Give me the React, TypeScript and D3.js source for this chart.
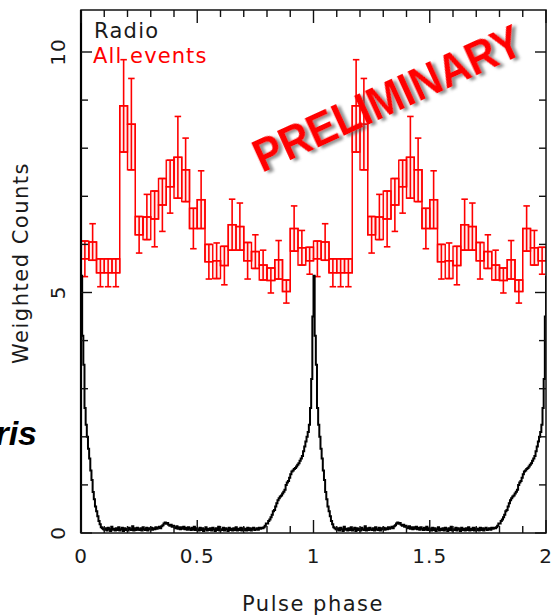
import React from "react";
import * as d3 from "d3";

// ---- Data (one pulse cycle; plotted twice, phase 0-2) ----
// Gamma-ray "All events" weighted counts, 30 phase bins per cycle
const RED_VALUES = [5.70, 6.05, 5.41, 5.41, 5.41, 8.88, 8.50, 6.20, 6.57, 6.53,
  6.82, 7.20, 7.81, 7.55, 6.33, 6.93, 5.64, 5.66, 5.56, 6.41,
  6.37, 5.66, 5.85, 5.57, 5.25, 5.68, 5.02, 6.33, 5.93, 5.66];
const RED_ERRORS = [0.37, 0.38, 0.29, 0.29, 0.29, 0.96, 0.95, 0.38, 0.47, 0.58,
  0.55, 0.55, 0.85, 0.66, 0.42, 0.60, 0.36, 0.37, 0.40, 0.53,
  0.49, 0.38, 0.35, 0.31, 0.26, 0.40, 0.24, 0.47, 0.36, 0.28];

// Radio profile, 200 phase bins per cycle
const RADIO_PEAK_FALL = [5.35, 4.1, 3.5, 2.6, 2.25, 2.0, 1.75, 1.55, 1.3, 1.1,
  0.85, 0.7, 0.55, 0.45, 0.35, 0.25, 0.18, 0.12, 0.1, 0.08];
const RADIO_OFF_PULSE = [
  0.07, 0.1, 0.05, 0.11, 0.08, 0.04, 0.13, 0.07, 0.09, 0.05,
  0.1, 0.06, 0.12, 0.05, 0.08, 0.11, 0.04, 0.1, 0.06, 0.09,
  0.05, 0.11, 0.08, 0.06, 0.14, 0.05, 0.1, 0.06, 0.11, 0.08,
  0.06, 0.1, 0.05, 0.12, 0.08, 0.06, 0.11, 0.05, 0.1, 0.08,
  0.11, 0.07, 0.1, 0.08, 0.12, 0.09, 0.11, 0.13, 0.1, 0.14,
  0.16, 0.2, 0.22, 0.19, 0.21, 0.17, 0.15, 0.17, 0.13, 0.15,
  0.12, 0.1, 0.14, 0.09, 0.12, 0.08, 0.12, 0.09, 0.13, 0.08,
  0.11, 0.07, 0.12, 0.09, 0.06, 0.11, 0.07, 0.13, 0.06, 0.1,
  0.08, 0.05, 0.11, 0.06, 0.1, 0.04, 0.08, 0.12, 0.05, 0.09,
  0.06, 0.1, 0.05, 0.11, 0.08, 0.04, 0.1, 0.06, 0.13, 0.05,
  0.08, 0.06, 0.11, 0.05, 0.1, 0.08, 0.04, 0.11, 0.06, 0.09,
  0.05, 0.1, 0.06, 0.12, 0.05, 0.09, 0.06, 0.11, 0.05, 0.1,
  0.06, 0.09, 0.05, 0.11, 0.06, 0.1, 0.05, 0.09, 0.11, 0.06,
  0.08, 0.1, 0.07, 0.11, 0.09, 0.11];
const RADIO_RISE = [0.1, 0.12, 0.15, 0.2, 0.2, 0.25, 0.28, 0.33, 0.38, 0.45,
  0.48, 0.55, 0.62, 0.68, 0.72, 0.76, 0.78, 0.82, 0.86, 0.9,
  1.0, 1.05, 1.08, 1.15, 1.22, 1.28, 1.3, 1.33, 1.35, 1.38,
  1.42, 1.45, 1.5, 1.55, 1.6, 1.7, 1.8, 1.9, 2.0, 2.1,
  2.25, 2.6, 3.2, 4.5];
const RADIO = [...RADIO_PEAK_FALL, ...RADIO_OFF_PULSE, ...RADIO_RISE];

const CYCLES = 2;
const X_MAJOR = [0, 0.5, 1, 1.5, 2];
const X_LABELS = ["0", "0.5", "1", "1.5", "2"];
const Y_MAJOR = [0, 5, 10];
const Y_LABELS = ["0", "5", "10"];

const W = 552, H = 616;
const L = 81, R = 546, T = 10, B = 533;

export default function App() {
  const x = d3.scaleLinear().domain([0, 2]).range([L, R]);
  const y = d3.scaleLinear().domain([0, 10]).range([B, 52]);

  const xMinor = d3.range(0, 21).map((i) => i / 10);
  const yMinor = d3.range(0, 11);

  // radio step line
  const nR = RADIO.length;
  const radioPts: [number, number][] = [];
  for (let c = 0; c < CYCLES; c++) {
    RADIO.forEach((v, i) => radioPts.push([c + i / nR, v]));
  }
  radioPts.push([CYCLES, RADIO[0]]);
  const stepLine = d3.line<[number, number]>()
    .x((d) => x(d[0]))
    .y((d) => y(d[1]))
    .curve(d3.curveStepAfter);

  // red histogram
  const nB = RED_VALUES.length;
  const bw = 1 / nB;
  const redBins: { x0: number; v: number; e: number; next: number }[] = [];
  for (let c = 0; c < CYCLES; c++) {
    RED_VALUES.forEach((v, i) =>
      redBins.push({ x0: c + i * bw, v, e: RED_ERRORS[i], next: RED_VALUES[(i + 1) % nB] })
    );
  }
  const redPts: [number, number][] = redBins.map((b) => [b.x0, b.v]);
  redPts.push([CYCLES, redBins[redBins.length - 1].v]);

  const red = "#ff0000";
  const txt = "#1a1a1a";
  const font = "'DejaVu Sans', sans-serif";
  const capHalf = (x(bw) - x(0)) * 0.42;

  return (
    <svg width={W} height={H} style={{ position: "absolute", left: 0, top: 0, background: "#fff" }}
      xmlns="http://www.w3.org/2000/svg">
      <defs>
        <filter id="shadow" x="-10%" y="-30%" width="130%" height="170%">
          <feDropShadow dx="3" dy="3" stdDeviation="1.6" floodColor="#555" floodOpacity="0.65" />
        </filter>
        <clipPath id="plot">
          <rect x={L} y={T} width={R - L} height={B - T} />
        </clipPath>
      </defs>

      {/* red histogram */}
      <g clipPath="url(#plot)">
        {redBins.map((b, i) => {
          const dir = b.next >= b.v ? 1 : -1;
          const y1 = y(b.v), y2 = y(b.v + dir * b.e);
          return (
            <rect key={"bx" + i} x={x(b.x0)} y={Math.min(y1, y2)} width={x(bw) - x(0)}
              height={Math.abs(y1 - y2)} fill="rgba(255,0,0,0.07)" stroke={red} strokeWidth={1.4} />
          );
        })}
        <path d={stepLine(redPts) || ""} fill="none" stroke={red} strokeWidth={1.5} />
        {redBins.map((b, i) => {
          const cx = x(b.x0 + bw / 2);
          return (
            <g key={"eb" + i} stroke={red} strokeWidth={1.6}>
              <line x1={cx} x2={cx} y1={y(b.v - b.e)} y2={y(b.v + b.e)} />
              <line x1={cx - capHalf} x2={cx + capHalf} y1={y(b.v - b.e)} y2={y(b.v - b.e)} />
              <line x1={cx - capHalf} x2={cx + capHalf} y1={y(b.v + b.e)} y2={y(b.v + b.e)} />
            </g>
          );
        })}
        {/* radio */}
        <path d={stepLine(radioPts) || ""} fill="none" stroke="#000" strokeWidth={2} />
      </g>

      {/* frame */}
      <rect x={L} y={T} width={R - L} height={B - T} fill="none" stroke="#111" strokeWidth={1.5} />
      <line x1={L} x2={L} y1={T} y2={B} stroke="#000" strokeWidth={2.2} />

      {/* ticks */}
      <g stroke="#111" strokeWidth={1.4}>
        {xMinor.map((t, i) => {
          const len = X_MAJOR.some((m) => Math.abs(m - t) < 1e-9) ? 13 : 7;
          return (
            <g key={"xt" + i}>
              <line x1={x(t)} x2={x(t)} y1={B} y2={B - len} />
              <line x1={x(t)} x2={x(t)} y1={T} y2={T + len} />
            </g>
          );
        })}
        {yMinor.map((t, i) => {
          const len = Y_MAJOR.includes(t) ? 11 : 7;
          return (
            <g key={"yt" + i}>
              <line x1={L} x2={L + len} y1={y(t)} y2={y(t)} />
              <line x1={R} x2={R - len} y1={y(t)} y2={y(t)} />
            </g>
          );
        })}
      </g>

      {/* tick labels */}
      <g fontFamily={font} fontSize={20} fill={txt} letterSpacing={1}>
        {X_MAJOR.map((t, i) => (
          <text key={"xl" + i} x={x(t)} y={563} textAnchor="middle">{X_LABELS[i]}</text>
        ))}
        {Y_MAJOR.map((t, i) => (
          <text key={"yl" + i} transform={`translate(65,${y(t)}) rotate(-90)`} textAnchor="middle">
            {Y_LABELS[i]}
          </text>
        ))}
      </g>

      {/* axis titles */}
      <text x={313} y={611} textAnchor="middle" fontFamily={font} fontSize={21} fill={txt} letterSpacing={1.5}>
        Pulse phase
      </text>
      <text transform="translate(28,263) rotate(-90)" textAnchor="middle" fontFamily={font} fontSize={21}
        fill={txt} letterSpacing={1.5}>
        Weighted Counts
      </text>

      {/* legend labels */}
      <text x={94} y={38} fontFamily={font} fontSize={21} fill={txt} letterSpacing={1.3}>Radio</text>
      <text x={93} y={63} fontFamily={font} fontSize={21} fill={red} letterSpacing={1.1}>All events</text>

      {/* watermark */}
      <text transform="translate(262,173) rotate(-24.5)" fontFamily="'Liberation Sans', Arial, sans-serif"
        fontWeight="bold" fontSize={47} fill={red} filter="url(#shadow)"
        textLength={290} lengthAdjust="spacingAndGlyphs">PRELIMINARY</text>

      {/* cropped outside text */}
      <text x={37} y={445} textAnchor="end" fontFamily="'Liberation Sans', Arial, sans-serif"
        fontWeight="bold" fontStyle="italic" fontSize={34} fill="#000">ris</text>
    </svg>
  );
}
